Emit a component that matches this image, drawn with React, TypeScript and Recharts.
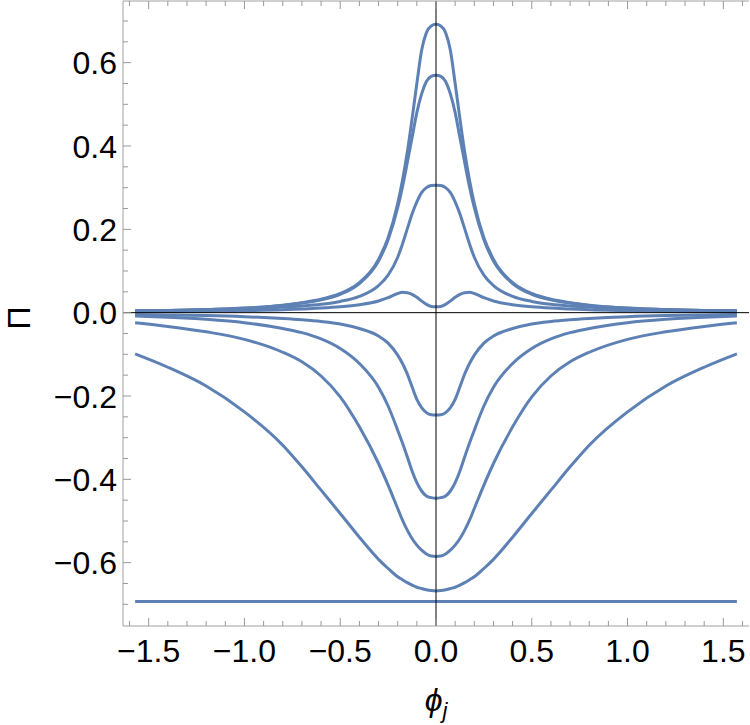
import { LineChart, Line, XAxis, YAxis, ReferenceLine } from "recharts";

const phi = [
  -1.5708, -1.4, -1.2, -1.0, -0.8, -0.7, -0.6, -0.5, -0.4, -0.3, -0.25, -0.2, -0.175, -0.15, -0.125, -0.1, -0.075, -0.05, -0.025,
  0, 0.025, 0.05, 0.075, 0.1, 0.125, 0.15, 0.175, 0.2, 0.25, 0.3, 0.4, 0.5, 0.6, 0.7, 0.8, 1.0, 1.2, 1.4, 1.5708,
];

const peak1 = [
  0.0045, 0.0055, 0.0075, 0.011, 0.018, 0.024, 0.032, 0.046, 0.072, 0.128, 0.18, 0.262, 0.318, 0.385, 0.465, 0.55, 0.63, 0.672, 0.688,
  0.692, 0.688, 0.672, 0.63, 0.55, 0.465, 0.385, 0.318, 0.262, 0.18, 0.128, 0.072, 0.046, 0.032, 0.024, 0.018, 0.011, 0.0075, 0.0055, 0.0045,
];
const peak2 = [
  0.004, 0.005, 0.007, 0.0105, 0.017, 0.023, 0.031, 0.044, 0.07, 0.124, 0.175, 0.252, 0.302, 0.36, 0.42, 0.48, 0.525, 0.555, 0.567,
  0.57, 0.567, 0.555, 0.525, 0.48, 0.42, 0.36, 0.302, 0.252, 0.175, 0.124, 0.07, 0.044, 0.031, 0.023, 0.017, 0.0105, 0.007, 0.005, 0.004,
];
const peak3 = [
  0.004, 0.005, 0.0065, 0.009, 0.0135, 0.016, 0.02, 0.027, 0.039, 0.065, 0.09, 0.133, 0.165, 0.201, 0.237, 0.266, 0.288, 0.3, 0.305,
  0.306, 0.305, 0.3, 0.288, 0.266, 0.237, 0.201, 0.165, 0.133, 0.09, 0.065, 0.039, 0.027, 0.02, 0.016, 0.0135, 0.009, 0.0065, 0.005, 0.004,
];
const bump = [
  0.002, 0.0025, 0.0035, 0.005, 0.007, 0.009, 0.011, 0.014, 0.019, 0.028, 0.036, 0.046, 0.049, 0.048, 0.044, 0.037, 0.028, 0.02, 0.015,
  0.014, 0.015, 0.02, 0.028, 0.037, 0.044, 0.048, 0.049, 0.046, 0.036, 0.028, 0.019, 0.014, 0.011, 0.009, 0.007, 0.005, 0.0035, 0.0025, 0.002,
];
const dipD = [
  -0.0045, -0.0055, -0.007, -0.0096, -0.014, -0.017, -0.021, -0.027, -0.038, -0.056, -0.073, -0.102, -0.122, -0.147, -0.178, -0.208, -0.228, -0.24, -0.245,
  -0.2456, -0.245, -0.24, -0.228, -0.208, -0.178, -0.147, -0.122, -0.102, -0.073, -0.056, -0.038, -0.027, -0.021, -0.017, -0.014, -0.0096, -0.007, -0.0055, -0.0045,
];
const dipC = [
  -0.008, -0.011, -0.016, -0.024, -0.038, -0.048, -0.063, -0.086, -0.122, -0.179, -0.224, -0.282, -0.313, -0.346, -0.38, -0.408, -0.428, -0.44, -0.444,
  -0.4456, -0.444, -0.44, -0.428, -0.408, -0.38, -0.346, -0.313, -0.282, -0.224, -0.179, -0.122, -0.086, -0.063, -0.048, -0.038, -0.024, -0.016, -0.011, -0.008,
];
const dipB = [
  -0.024, -0.033, -0.046, -0.064, -0.095, -0.118, -0.152, -0.202, -0.274, -0.362, -0.414, -0.47, -0.498, -0.522, -0.542, -0.558, -0.57, -0.579, -0.584,
  -0.585, -0.584, -0.579, -0.57, -0.558, -0.542, -0.522, -0.498, -0.47, -0.414, -0.362, -0.274, -0.202, -0.152, -0.118, -0.095, -0.064, -0.046, -0.033, -0.024,
];
const dipA = [
  -0.099, -0.131, -0.176, -0.238, -0.318, -0.37, -0.426, -0.482, -0.539, -0.592, -0.614, -0.634, -0.641, -0.648, -0.654, -0.659, -0.662, -0.665, -0.667,
  -0.668, -0.667, -0.665, -0.662, -0.659, -0.654, -0.648, -0.641, -0.634, -0.614, -0.592, -0.539, -0.482, -0.426, -0.37, -0.318, -0.238, -0.176, -0.131, -0.099,
];

// the constant curve at -ln 2
const flatPhi = [-1.5708, 1.5708];
const flatVal = [-0.693, -0.693];

const xTicks = [
  -1.6, -1.5, -1.4, -1.3, -1.2, -1.1, -1.0, -0.9, -0.8, -0.7, -0.6, -0.5, -0.4, -0.3, -0.2, -0.1,
  0, 0.1, 0.2, 0.3, 0.4, 0.5, 0.6, 0.7, 0.8, 0.9, 1.0, 1.1, 1.2, 1.3, 1.4, 1.5, 1.6,
];
const yTicks = [
  -0.7, -0.65, -0.6, -0.55, -0.5, -0.45, -0.4, -0.35, -0.3, -0.25, -0.2, -0.15, -0.1, -0.05,
  0, 0.05, 0.1, 0.15, 0.2, 0.25, 0.3, 0.35, 0.4, 0.45, 0.5, 0.55, 0.6, 0.65, 0.7,
];

const seriesKeys = ["peak1", "peak2", "peak3", "bump", "dipD", "dipC", "dipB", "dipA"];
const seriesVals = [peak1, peak2, peak3, bump, dipD, dipC, dipB, dipA];

const rows = phi.map((p, i) => {
  const r: Record<string, number> = { phi: p };
  seriesKeys.forEach((k, j) => (r[k] = seriesVals[j][i]));
  return r;
});
const flatRows = flatPhi.map((p, i) => ({ phi: p, flat: flatVal[i] }));

const BLUE = "#5e81b5";
const FRAME = "#a0a0a0";
const TICK = "#999999";
const FONT = "'Liberation Sans', Arial, sans-serif";

const fmt = (v: number) => {
  const s = Math.abs(v).toFixed(1);
  return v < -1e-9 ? "\u2212" + s : s;
};
const isMajor = (v: number, step: number) => Math.abs(v / step - Math.round(v / step)) < 1e-6;

function BottomTick(props: any) {
  const { x, y, payload } = props;
  const major = isMajor(payload.value, 0.5);
  return (
    <g>
      <line x1={x} x2={x} y1={y} y2={y - (major ? 8 : 5)} stroke={TICK} strokeWidth={1} />
      {major && (
        <text x={x} y={y + 36} textAnchor="middle" fontSize={32} fontFamily={FONT} fill="#000">
          {fmt(payload.value)}
        </text>
      )}
    </g>
  );
}
function TopTick(props: any) {
  const { x, y, payload } = props;
  const major = isMajor(payload.value, 0.5);
  return <line x1={x} x2={x} y1={y} y2={y + (major ? 8 : 5)} stroke={TICK} strokeWidth={1} />;
}
function LeftTick(props: any) {
  const { x, y, payload } = props;
  const major = isMajor(payload.value, 0.2);
  return (
    <g>
      <line x1={x} x2={x + (major ? 8 : 5)} y1={y} y2={y} stroke={TICK} strokeWidth={1} />
      {major && (
        <text x={x - 6} y={y + 11.5} textAnchor="end" fontSize={32} fontFamily={FONT} fill="#000">
          {fmt(payload.value)}
        </text>
      )}
    </g>
  );
}
function RightTick(props: any) {
  const { x, y, payload } = props;
  const major = isMajor(payload.value, 0.2);
  return <line x1={x} x2={x - (major ? 8 : 5)} y1={y} y2={y} stroke={TICK} strokeWidth={1} />;
}

export default function App() {
  const xDomain = [-1.634, 1.634];
  const yDomain = [-0.752, 0.748];
  return (
    <div style={{ position: "absolute", left: 0, top: 0, width: 750, height: 725, background: "#fff" }}>
      <LineChart width={750} height={725} data={rows} margin={{ top: 0, right: 1, left: 0, bottom: 0 }}>
        <XAxis
          xAxisId="b"
          dataKey="phi"
          type="number"
          domain={xDomain}
          ticks={xTicks}
          interval={0}
          allowDataOverflow
          height={99}
          tickSize={0}
          tickMargin={0}
          tickLine={false}
          tick={(p: any) => <BottomTick {...p} />}
          axisLine={{ stroke: FRAME }}
        />
        <XAxis
          xAxisId="t"
          orientation="top"
          dataKey="phi"
          type="number"
          domain={xDomain}
          ticks={xTicks}
          interval={0}
          allowDataOverflow
          height={1}
          tickSize={0}
          tickMargin={0}
          tickLine={false}
          tick={(p: any) => <TopTick {...p} />}
          axisLine={{ stroke: FRAME }}
        />
        <YAxis
          yAxisId="l"
          type="number"
          domain={yDomain}
          ticks={yTicks}
          interval={0}
          allowDataOverflow
          width={123}
          tickSize={0}
          tickMargin={0}
          tickLine={false}
          tick={(p: any) => <LeftTick {...p} />}
          axisLine={{ stroke: FRAME }}
        />
        <YAxis
          yAxisId="r"
          orientation="right"
          type="number"
          domain={yDomain}
          ticks={yTicks}
          interval={0}
          allowDataOverflow
          width={0}
          tickSize={0}
          tickMargin={0}
          tickLine={false}
          tick={(p: any) => <RightTick {...p} />}
          axisLine={{ stroke: FRAME }}
        />
        {seriesKeys.map((k) => (
          <Line
            key={k}
            xAxisId="b"
            yAxisId="l"
            dataKey={k}
            type="monotone"
            stroke={BLUE}
            strokeWidth={3}
            dot={false}
            isAnimationActive={false}
          />
        ))}
        <Line
          xAxisId="b"
          yAxisId="l"
          data={flatRows}
          dataKey="flat"
          type="linear"
          stroke={BLUE}
          strokeWidth={3}
          dot={false}
          isAnimationActive={false}
        />
        <ReferenceLine xAxisId="b" yAxisId="l" x={0} stroke="#000" strokeWidth={1} />
        <ReferenceLine xAxisId="b" yAxisId="l" y={0} stroke="#000" strokeWidth={1} />
      </LineChart>
      <svg width={750} height={725} style={{ position: "absolute", left: 0, top: 0, pointerEvents: "none" }}>
        <text x={436} y={711} textAnchor="middle" fontFamily={FONT} fontSize={32} fontStyle="italic" fill="#000">
          {"\u03d5"}
          <tspan fontSize={22} dy={7}>j</tspan>
        </text>
        <text x={30} y={318} transform="rotate(-90 30 318)" textAnchor="middle" fontFamily={FONT} fontSize={32} fill="#000">
          {"\u03a0"}
        </text>
      </svg>
    </div>
  );
}
